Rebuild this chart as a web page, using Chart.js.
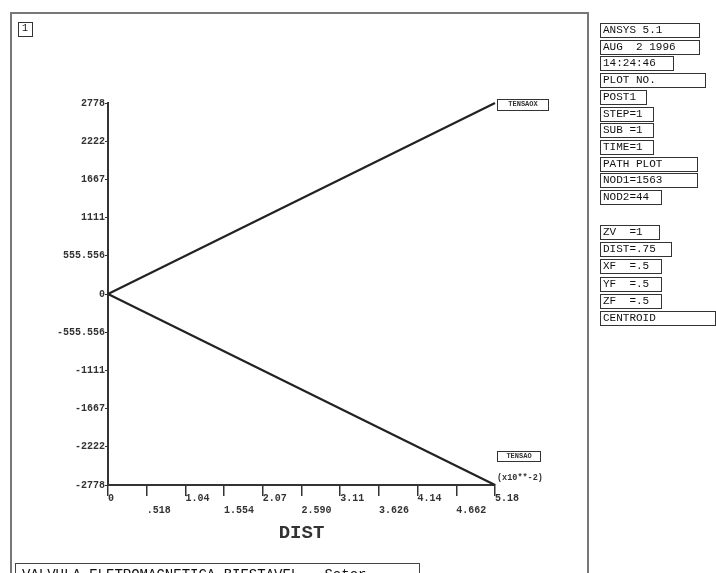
<!DOCTYPE html>
<html>
<head>
<meta charset="utf-8">
<script src="https://cdn.jsdelivr.net/npm/chart.js@4.4.1/dist/chart.umd.min.js"></script>
<style>
html, body { margin: 0; padding: 0; background: #fff; width: 716px; height: 573px; overflow: hidden; }
#wrap { position: relative; width: 716px; height: 573px; }
canvas { position: absolute; left: 0; top: 0; }
.line { position: absolute; background: #777; }
.box { position: absolute; border: 1.5px solid #333; font-family: "Liberation Mono", monospace; font-size: 11px; line-height: 12px; color: #111; padding: 0 2px; box-sizing: border-box; height: 15px; white-space: pre; }
.tag { position: absolute; border: 1.5px solid #333; font-family: "Liberation Mono", monospace; font-size: 7px; line-height: 8px; color: #333; font-weight: bold; text-align: center; box-sizing: border-box; }
.txt { position: absolute; font-family: "Liberation Mono", monospace; color: #333; font-weight: bold; white-space: pre; }
</style>
</head>
<body>
<div id="wrap">
  <canvas id="pathChart" width="716" height="573"></canvas>
</div>
<script>
// path plot values (DIST in x10**-2)
const distTicks = [0, 0.518, 1.036, 1.554, 2.072, 2.59, 3.108, 3.626, 4.144, 4.662, 5.18];
const distLabels = ['0', '.518', '1.04', '1.554', '2.07', '2.590', '3.11', '3.626', '4.14', '4.662', '5.18'];
const stressTicks = [-2778, -2222, -1667, -1111, -555.556, 0, 555.556, 1111, 1667, 2222, 2778];
const stressLabels = ['-2778', '-2222', '-1667', '-1111', '-555.556', '0', '555.556', '1111', '1667', '2222', '2778'];
const dist = [0, 5.18];
const upperValues = [0, 2778];
const lowerValues = [0, -2778];
const seriesNames = ['TENSAOX', 'TENSAO'];

// status panel on the right
const infoTop = [['ANSYS 5.1', 100], ['AUG  2 1996', 100], ['14:24:46', 74], ['PLOT NO.', 106], ['POST1', 47],
  ['STEP=1', 54], ['SUB =1', 54], ['TIME=1', 54], ['PATH PLOT', 98], ['NOD1=1563', 98], ['NOD2=44', 62]];
const infoView = [['ZV  =1', 60], ['DIST=.75', 72], ['XF  =.5', 62], ['YF  =.5', 62], ['ZF  =.5', 62], ['CENTROID', 116]];

const wrap = document.getElementById('wrap');

function addDiv(cls, css, text) {
    const d = document.createElement('div');
    d.className = cls;
    Object.assign(d.style, css);
    if (text !== undefined) d.textContent = text;
    wrap.appendChild(d);
    return d;
}

// outer frame
addDiv('line', {left: '10px', top: '12px', width: '1.5px', height: '561px'});
addDiv('line', {left: '10px', top: '12px', width: '578px', height: '1.5px'});
addDiv('line', {left: '587px', top: '12px', width: '1.5px', height: '561px'});
addDiv('box', {left: '18px', top: '22px', width: '15px', height: '15px', fontSize: '10px', padding: '0 0 0 3px'}, '1');

infoTop.forEach((item, i) => {
    addDiv('box', {left: '600px', top: (23 + i * 16.7) + 'px', width: item[1] + 'px'}, item[0]);
});
infoView.forEach((item, i) => {
    addDiv('box', {left: '600px', top: (225 + i * 17.2) + 'px', width: item[1] + 'px'}, item[0]);
});

// series tags and multiplier
addDiv('tag', {left: '497px', top: '99px', width: '52px', height: '12px'}, seriesNames[0]);
addDiv('tag', {left: '497px', top: '451px', width: '44px', height: '11px'}, seriesNames[1]);
addDiv('txt', {left: '497px', top: '473px', fontSize: '8.5px'}, '(x10**-2)');

// title box at the bottom
addDiv('box', {left: '15px', top: '563px', width: '405px', height: '20px', fontSize: '14px', lineHeight: '18px', padding: '2px 0 0 6px', border: '1.5px solid #444'},
    'VALVULA ELETROMAGNETICA BIESTAVEL - Setor');

const tickFont = {family: 'Liberation Mono', size: 10, weight: 'bold'};

new Chart(document.getElementById('pathChart').getContext('2d'), {
    type: 'scatter',
    data: {
        datasets: [{
            label: seriesNames[0],
            data: dist.map((x, i) => ({x: x, y: upperValues[i]})),
            showLine: true,
            borderColor: '#222',
            borderWidth: 2.2,
            pointRadius: 0,
            clip: false
        }, {
            label: seriesNames[1],
            data: dist.map((x, i) => ({x: x, y: lowerValues[i]})),
            showLine: true,
            borderColor: '#222',
            borderWidth: 2.2,
            pointRadius: 0,
            clip: false
        }]
    },
    options: {
        responsive: false,
        animation: false,
        devicePixelRatio: 1,
        layout: {padding: {left: 40, top: 103, right: 221, bottom: 28}},
        plugins: {legend: {display: false}, tooltip: {enabled: false}},
        scales: {
            x: {
                type: 'linear',
                min: 0,
                max: 5.18,
                afterBuildTicks: s => { s.ticks = distTicks.map(v => ({value: v})); },
                afterFit: s => { s.height = 60; },
                grid: {drawOnChartArea: false, tickLength: 11, color: '#333', lineWidth: 1.5},
                border: {color: '#333', width: 2},
                ticks: {
                    align: 'start',
                    maxRotation: 0,
                    autoSkip: false,
                    padding: -4,
                    font: tickFont,
                    color: '#333',
                    callback: (v, i) => i % 2 ? ['', distLabels[i]] : distLabels[i]
                },
                title: {display: true, text: 'DIST', font: {family: 'Liberation Mono', size: 19, weight: 'bold'}, color: '#333', padding: 0}
            },
            y: {
                type: 'linear',
                min: -2778,
                max: 2778,
                afterBuildTicks: s => { s.ticks = stressTicks.map(v => ({value: v})); },
                afterFit: s => { s.width = 68; },
                grid: {drawOnChartArea: false, tickLength: 3, color: '#333'},
                border: {color: '#333', width: 2},
                ticks: {
                    autoSkip: false,
                    padding: 0,
                    font: tickFont,
                    color: '#333',
                    callback: (v, i) => stressLabels[i]
                }
            }
        }
    }
});
</script>
</body>
</html>
